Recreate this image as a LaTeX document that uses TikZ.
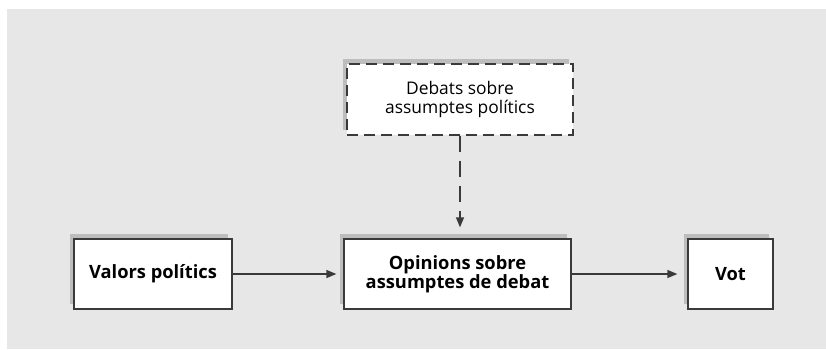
\documentclass[tikz,border=0pt]{standalone}
\usepackage{fontspec}
\setmainfont{Open Sans}
\usetikzlibrary{arrows.meta,shadows}
\definecolor{bggray}{HTML}{E7E7E7}
\definecolor{shadowgray}{HTML}{BDBDBD}
\definecolor{edgegray}{HTML}{3A3A3A}
\tikzset{
  box/.style={draw=edgegray, line width=1.3pt, fill=white, inner sep=0pt,
    minimum height=70pt, align=center,
    font=\fontsize{18.3}{19}\selectfont\bfseries,
    general shadow={shadow xshift=-4.5pt, shadow yshift=5pt, fill=shadowgray}},
  dashbox/.style={box, dash pattern=on 11pt off 6pt,
    font=\fontsize{17.4}{19}\selectfont},
  conn/.style={draw=edgegray, line width=1.3pt, -{Triangle[length=10pt,width=8pt]}},
  dashconn/.style={conn, dash pattern=on 16pt off 9pt},
}
\begin{document}
\begin{tikzpicture}[x=1pt,y=1pt]
\useasboundingbox (0,0) rectangle (826,349);
\fill[bggray] (7,0) rectangle (826,340);
\node[box, minimum width=158pt] (valors) at (153,75) {Valors polítics};
\node[box, minimum width=227pt] (opinions) at (457.5,75) {Opinions sobre\\assumptes de debat};
\node[box, minimum width=85pt] (vot) at (730.5,75) {Vot};
\node[dashbox, minimum width=226pt, minimum height=71pt] (debats) at (460,249.5) {Debats sobre\\assumptes polítics};
\draw[conn, shorten >=7pt] (valors.east) -- (opinions.west);
\draw[conn, shorten >=10pt] (opinions.east) -- (vot.west);
\draw[dashconn, shorten >=11pt] (debats.south) -- (debats.south |- opinions.north);
\end{tikzpicture}
\end{document}
